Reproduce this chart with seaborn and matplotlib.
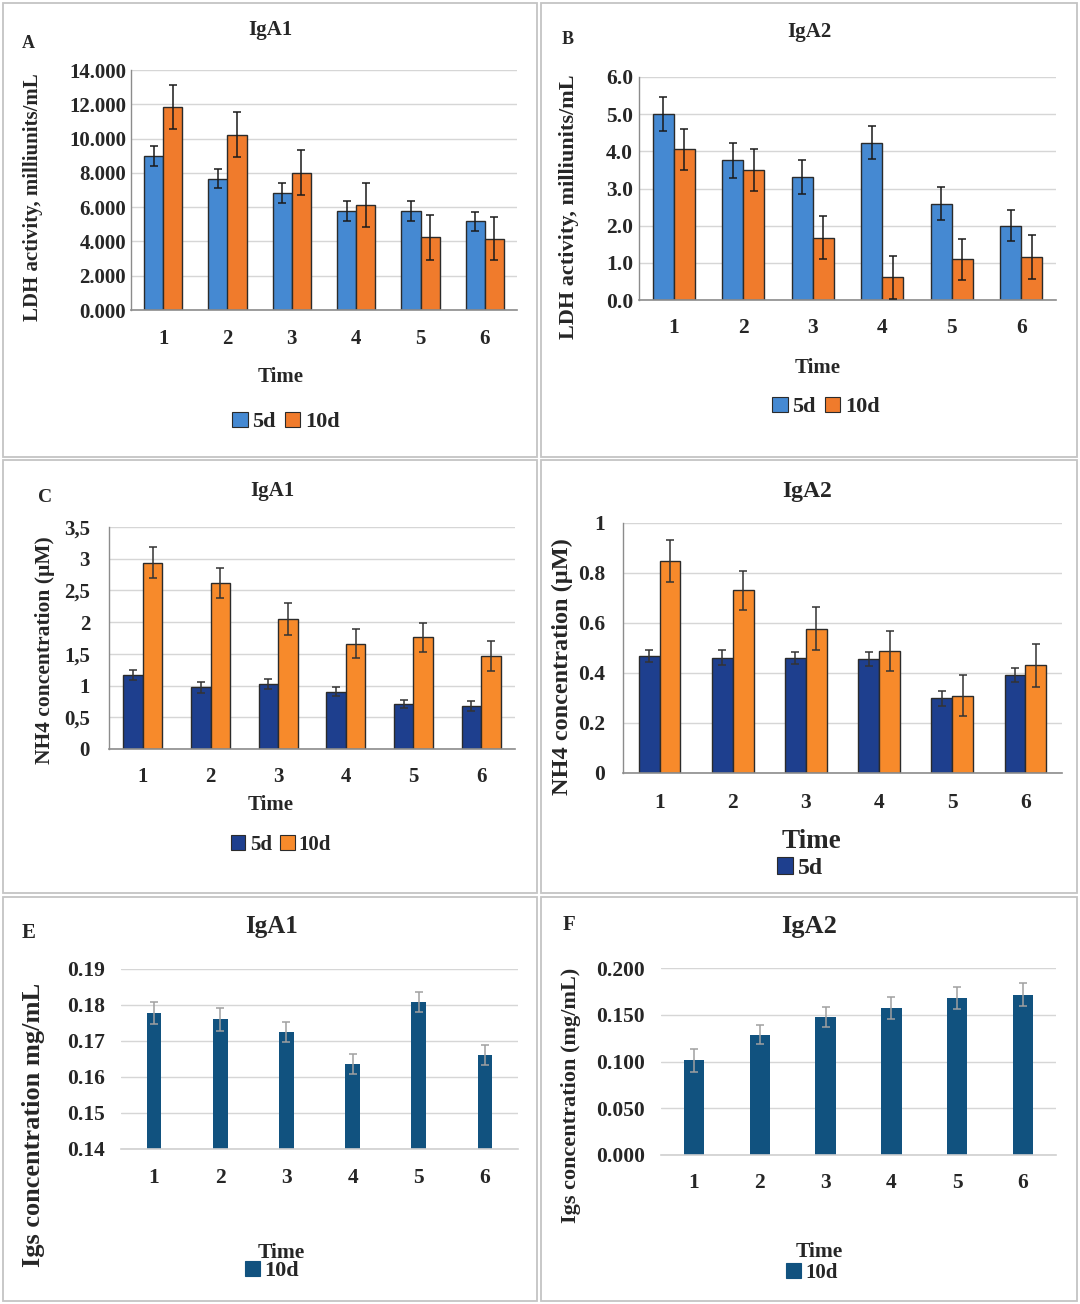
import numpy as np
import pandas as pd
import matplotlib
matplotlib.use("Agg")
import matplotlib.pyplot as plt
import seaborn as sns
from matplotlib.patches import Patch, Rectangle
from matplotlib.ticker import FixedLocator, FuncFormatter

# ---------------- data ----------------
times = ["1", "2", "3", "4", "5", "6"]

ldh_iga1_5d = [8.97, 7.66, 6.82, 5.77, 5.77, 5.17]
ldh_iga1_5d_err = [0.58, 0.55, 0.57, 0.57, 0.57, 0.54]
ldh_iga1_10d = [11.85, 10.23, 8.01, 6.12, 4.25, 4.17]
ldh_iga1_10d_err = [1.29, 1.33, 1.31, 1.27, 1.31, 1.25]

ldh_iga2_5d = [5.00, 3.76, 3.31, 4.23, 2.59, 2.00]
ldh_iga2_5d_err = [0.45, 0.47, 0.45, 0.44, 0.44, 0.41]
ldh_iga2_10d = [4.05, 3.49, 1.68, 0.61, 1.09, 1.16]
ldh_iga2_10d_err = [0.56, 0.56, 0.59, 0.58, 0.56, 0.59]

nh4_iga1_5d = [1.17, 0.97, 1.02, 0.90, 0.71, 0.68]
nh4_iga1_5d_err = [0.08, 0.08, 0.08, 0.07, 0.07, 0.08]
nh4_iga1_10d = [2.94, 2.62, 2.05, 1.66, 1.76, 1.47]
nh4_iga1_10d_err = [0.24, 0.24, 0.25, 0.23, 0.23, 0.24]

nh4_iga2_5d = [0.467, 0.461, 0.461, 0.456, 0.299, 0.393]
nh4_iga2_5d_err = [0.024, 0.030, 0.024, 0.029, 0.031, 0.028]
nh4_iga2_10d = [0.849, 0.731, 0.577, 0.489, 0.309, 0.431]
nh4_iga2_10d_err = [0.083, 0.078, 0.086, 0.079, 0.082, 0.085]

igs_iga1_10d = [0.1777, 0.1760, 0.1726, 0.1637, 0.1808, 0.1662]
igs_iga1_10d_err = [0.0030, 0.0031, 0.0028, 0.0028, 0.0028, 0.0028]
igs_iga2_10d = [0.1012, 0.1286, 0.1474, 0.1570, 0.1680, 0.1716]
igs_iga2_10d_err = [0.012, 0.010, 0.011, 0.012, 0.012, 0.012]

# ---------------- style ----------------
sns.set_theme(style="white")
plt.rcParams["font.family"] = ["Liberation Serif", "DejaVu Serif"]
plt.rcParams["font.weight"] = "bold"
plt.rcParams["axes.labelweight"] = "bold"
plt.rcParams["axes.titleweight"] = "bold"

W, H = 1080, 1304
fig = plt.figure(figsize=(W / 100, H / 100), dpi=100)
fig.patch.set_facecolor("white")

BLUE_A = "#4589D2"
ORANGE_A = "#F07B2C"
NAVY = "#1E3F8E"
ORANGE_C = "#F78A2B"
TEAL = "#11527F"


def fx(x):
    return x / W


def fy(y):
    return 1 - y / H


def comma_fmt(v, pos=None):
    s = f"{v:g}"
    return s.replace(".", ",")


panels = [
    dict(box=(3, 3, 537, 457), axp=(131, 70, 517, 310), letter=("A", 28, 43, 13),
         title=("IgA1", 270, 30, 15), ylabel=("LDH activity, milliunits/mL", 33, 197, 15),
         xlabel=("Time", 281, 377, 15), legend=(286, 422, 16, None),
         series=[("5d", ldh_iga1_5d, ldh_iga1_5d_err, BLUE_A),
                 ("10d", ldh_iga1_10d, ldh_iga1_10d_err, ORANGE_A)],
         ylim=(0, 14), yticks=np.arange(0, 14.1, 2), fmt=lambda v, p=None: f"{v:.3f}",
         xdy=28, ypad=5, tfs=15, width=0.6, edge="#2b2b2b", ecol="#1a1a1a",
         leftspine=True, bottomcol="#8c8c8c"),
    dict(box=(541, 3, 1077, 457), axp=(639, 77, 1056, 300), letter=("B", 568, 40, 13),
         title=("IgA2", 809, 32, 15), ylabel=("LDH activity, milliunits/mL", 569, 207, 16),
         xlabel=("Time", 818, 368, 15), legend=(826, 407, 16, None),
         series=[("5d", ldh_iga2_5d, ldh_iga2_5d_err, BLUE_A),
                 ("10d", ldh_iga2_10d, ldh_iga2_10d_err, ORANGE_A)],
         ylim=(0, 6), yticks=np.arange(0, 6.1, 1), fmt=lambda v, p=None: f"{v:.1f}",
         xdy=28, ypad=6, tfs=15.5, width=0.6, edge="#2b2b2b", ecol="#1a1a1a",
         leftspine=True, bottomcol="#8c8c8c"),
    dict(box=(3, 460, 537, 893), axp=(109, 527, 515, 749), letter=("C", 45, 497, 14),
         title=("IgA1", 272, 491, 15), ylabel=("NH4 concentration (µM)", 45, 650, 15.5),
         xlabel=("Time", 271, 805, 15), legend=(281, 845, 15, None),
         series=[("5d", nh4_iga1_5d, nh4_iga1_5d_err, NAVY),
                 ("10d", nh4_iga1_10d, nh4_iga1_10d_err, ORANGE_C)],
         ylim=(0, 3.5), yticks=np.arange(0, 3.51, 0.5), fmt=comma_fmt,
         xdy=27, ypad=19, tfs=15, width=0.58, edge="#2b2b2b", ecol="#333333",
         leftspine=True, bottomcol="#8c8c8c"),
    dict(box=(541, 460, 1077, 893), axp=(623, 523, 1062, 773), letter=None,
         title=("IgA2", 807, 492, 17), ylabel=("NH4 concentration (µM)", 562, 667, 17.5),
         xlabel=("Time", 811, 842, 19.5), legend=(800, 868, 17, ["5d"]),
         series=[("5d", nh4_iga2_5d, nh4_iga2_5d_err, NAVY),
                 ("10d", nh4_iga2_10d, nh4_iga2_10d_err, ORANGE_C)],
         ylim=(0, 1), yticks=np.arange(0, 1.01, 0.2), fmt=lambda v, p=None: f"{v:g}",
         xdy=30, ypad=18, tfs=15.5, width=0.57, edge="#2b2b2b", ecol="#333333",
         leftspine=True, bottomcol="#8c8c8c"),
    dict(box=(3, 897, 537, 1301), axp=(121, 969, 518, 1149), letter=("E", 29, 933, 15),
         title=("IgA1", 271, 927, 18), ylabel=("Igs concentration mg/mL", 34, 1125, 19),
         xlabel=("Time", 281, 1253, 15.5), legend=(272, 1271, 16, None),
         series=[("10d", igs_iga1_10d, igs_iga1_10d_err, TEAL)],
         ylim=(0.14, 0.19), yticks=np.arange(0.14, 0.1901, 0.01), fmt=lambda v, p=None: f"{v:.2f}",
         xdy=29, ypad=16, tfs=15.5, width=0.22, edge=None, ecol="#a0a0a0",
         leftspine=False, bottomcol="#d0d0d0"),
    dict(box=(541, 897, 1077, 1301), axp=(661, 968, 1056, 1155), letter=("F", 569, 925, 15),
         title=("IgA2", 809, 927, 19), ylabel=("Igs concentration (mg/mL)", 571, 1095, 16),
         xlabel=("Time", 819, 1252, 15.5), legend=(812, 1273, 15, None),
         series=[("10d", igs_iga2_10d, igs_iga2_10d_err, TEAL)],
         ylim=(0, 0.2), yticks=np.arange(0, 0.2001, 0.05), fmt=lambda v, p=None: f"{v:.3f}",
         xdy=28, ypad=16, tfs=15.5, width=0.31, edge=None, ecol="#a0a0a0",
         leftspine=False, bottomcol="#d0d0d0"),
]

for P in panels:
    # panel frame
    l, t, r, b = P["box"]
    fig.add_artist(Rectangle((fx(l), fy(b)), (r - l) / W, (b - t) / H,
                             transform=fig.transFigure, fill=False,
                             edgecolor="#c4c4c4", lw=1.3))
    al, at, ar, ab = P["axp"]
    ax = fig.add_axes([fx(al), fy(ab), (ar - al) / W, (ab - at) / H])

    names = [s[0] for s in P["series"]]
    df = pd.DataFrame({
        "Time": times * len(P["series"]),
        "value": np.concatenate([s[1] for s in P["series"]]),
        "series": np.repeat(names, len(times)),
    })
    pal = {s[0]: s[3] for s in P["series"]}
    kw = dict(edgecolor=P["edge"], linewidth=1.0) if P["edge"] else dict(linewidth=0)
    sns.barplot(data=df, x="Time", y="value", hue="series", hue_order=names,
                palette=pal, width=P["width"], errorbar=None, saturation=1,
                legend=False, ax=ax, zorder=2, **kw)

    # error bars at bar centres
    for cont, s in zip(ax.containers, P["series"]):
        xs = [bar.get_x() + bar.get_width() / 2 for bar in cont]
        ys = [bar.get_height() for bar in cont]
        ax.errorbar(xs, ys, yerr=s[2], fmt="none", ecolor=P["ecol"],
                    elinewidth=1.1, capsize=2.8, capthick=1.1, zorder=3)

    ax.set_ylim(*P["ylim"])
    ax.set_xlim(-0.5, len(times) - 0.5)
    ax.yaxis.set_major_locator(FixedLocator(P["yticks"]))
    ax.yaxis.set_major_formatter(FuncFormatter(P["fmt"]))
    ax.yaxis.grid(True, color="#d6d6d6", lw=1.0, zorder=0)
    ax.set_axisbelow(True)
    for side in ["top", "right"]:
        ax.spines[side].set_visible(False)
    ax.spines["left"].set_visible(P["leftspine"])
    ax.spines["left"].set_color("#8c8c8c")
    ax.spines["left"].set_linewidth(1.0)
    ax.spines["bottom"].set_color(P["bottomcol"])
    ax.spines["bottom"].set_linewidth(1.2)
    ax.set_facecolor("white")

    tfs = P["tfs"]
    fs_px = tfs * 100 / 72
    xpad = max(P["xdy"] - 0.45 * fs_px, 0) * 0.72
    ax.tick_params(axis="x", length=0, pad=xpad, labelsize=tfs)
    ax.tick_params(axis="y", length=0, pad=P["ypad"] * 0.72, labelsize=tfs)
    for lab in ax.get_xticklabels() + ax.get_yticklabels():
        lab.set_fontweight("bold")

    axw, axh = ar - al, ab - at

    # x label
    txt, px, py, fs = P["xlabel"]
    ax.set_xlabel(txt, fontsize=fs, fontweight="bold")
    ax.xaxis.set_label_coords((px - al) / axw, (ab - py) / axh)
    ax.xaxis.label.set_verticalalignment("center")

    # y label
    txt, px, py, fs = P["ylabel"]
    ax.set_ylabel(txt, fontsize=fs, fontweight="bold")
    ax.yaxis.set_label_coords((px - al) / axw, (ab - py) / axh)
    ax.yaxis.label.set_verticalalignment("center")
    ax.yaxis.label.set_horizontalalignment("center")

    # title
    txt, px, py, fs = P["title"]
    ax.set_title(txt, fontsize=fs, fontweight="bold", pad=0,
                 x=(px - al) / axw, y=(ab - py) / axh, va="center", ha="center")

    # panel letter
    if P["letter"]:
        txt, px, py, fs = P["letter"]
        fig.text(fx(px), fy(py), txt, fontsize=fs, fontweight="bold",
                 ha="center", va="center")

    # legend
    lx, ly, lfs, only = P["legend"]
    handles = [Patch(facecolor=s[3], edgecolor=(P["edge"] or s[3]), lw=0.8, label=s[0])
               for s in P["series"] if (only is None or s[0] in only)]
    ax.legend(handles=handles, loc="center", bbox_to_anchor=(fx(lx), fy(ly)),
              bbox_transform=fig.transFigure, ncol=len(handles), frameon=False,
              prop={"weight": "bold", "size": lfs}, handlelength=0.7,
              handleheight=0.7, handletextpad=0.2, columnspacing=0.4,
              borderaxespad=0, borderpad=0)

fig.savefig("out.png", dpi=100, facecolor="white")
